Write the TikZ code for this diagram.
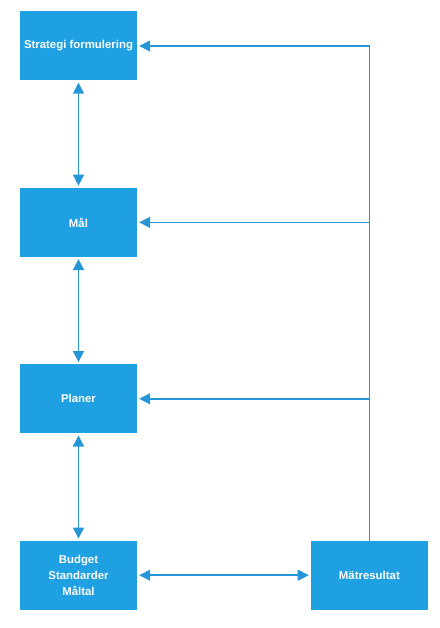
\documentclass[tikz,border=0pt]{standalone}
\usepackage{fontspec}
\setmainfont{Liberation Sans}
\usepackage{tikz}
\usetikzlibrary{arrows.meta,positioning}
\definecolor{boxblue}{RGB}{30,160,226}
\definecolor{lineblue}{RGB}{38,150,215}

\begin{document}
\begin{tikzpicture}[
    x=1pt, y=-1pt,
    >={Triangle[length=11pt,width=11pt]},
    font=\fontsize{11.4}{16}\selectfont\bfseries,
    box/.style={fill=boxblue, text=white, minimum width=117pt,
                minimum height=69pt, inner sep=2pt, align=center},
    link/.style={draw=lineblue, line width=1.5pt, shorten >=2pt, shorten <=2pt},
    node distance=107pt
]
\useasboundingbox (0,0) rectangle (439,628);

% Left column
\node[box] (strat) at (78.5,46) {Strategi formulering};
\node[box, below=of strat] (mal) {Mål};
\node[box, below=of mal] (plan) {Planer};
\node[box, below=of plan] (budget) {Budget\\Standarder\\Måltal};

% Measurement
\node[box, right=173.5pt of budget] (mat) {Mätresultat};

% Two-way links
\draw[link, <->] (strat) -- (mal);
\draw[link, <->] (mal) -- (plan);
\draw[link, <->] (plan) -- (budget);
\draw[link, <->] (budget) -- (mat);

% Feedback from results
\draw[link, ->, shorten <=0pt] (mat.north) |- (strat.east);
\draw[link, ->, shorten <=0pt] (mat.north |- mal.east) -- (mal.east);
\draw[link, ->, shorten <=0pt] (mat.north |- plan.east) -- (plan.east);

\end{tikzpicture}
\end{document}
